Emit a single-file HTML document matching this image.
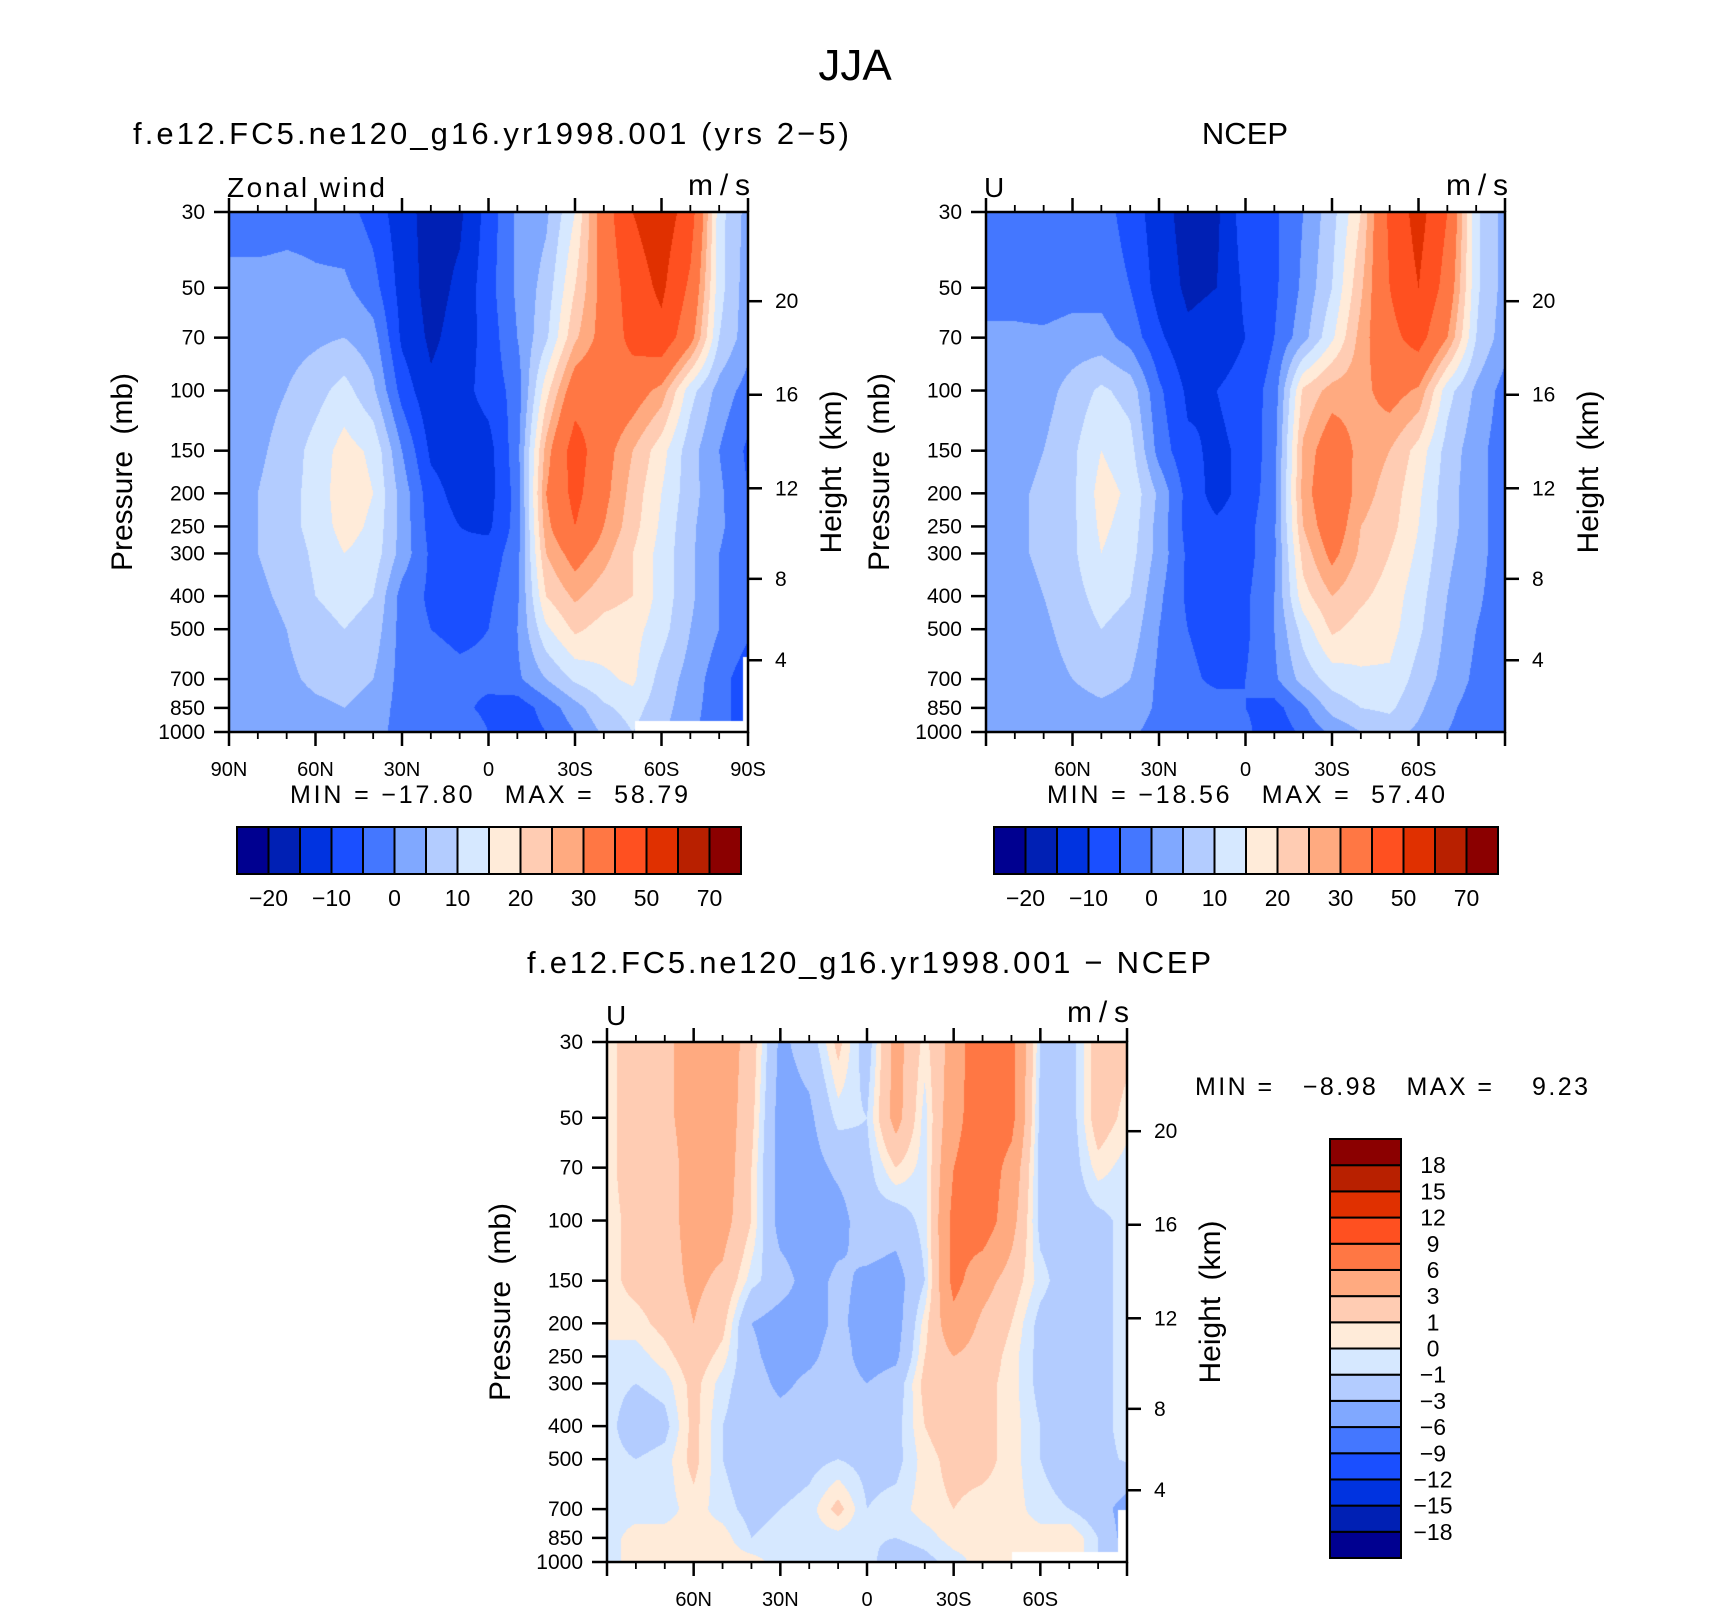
<!DOCTYPE html>
<html><head><meta charset="utf-8">
<style>
html,body{margin:0;padding:0;background:#fff;}
body{width:1710px;height:1611px;position:relative;overflow:hidden;font-family:"Liberation Sans",sans-serif;}
canvas{position:absolute;}
svg{position:absolute;left:0;top:0;}
</style></head>
<body>
<canvas id="c1" width="519" height="520" style="left:229px;top:212px"></canvas>
<canvas id="c2" width="519" height="520" style="left:986px;top:212px"></canvas>
<canvas id="c3" width="520" height="520" style="left:607px;top:1042px"></canvas>
<svg id="ov" width="1710" height="1611" xmlns="http://www.w3.org/2000/svg">
<text x="855" y="80" font-size="44" text-anchor="middle" font-family="Liberation Sans, sans-serif">JJA</text>
<text x="491" y="144" font-size="31" text-anchor="middle" textLength="716" font-family="Liberation Sans, sans-serif">f.e12.FC5.ne120_g16.yr1998.001 (yrs 2−5)</text>
<text x="1245" y="144" font-size="31" text-anchor="middle" font-family="Liberation Sans, sans-serif">NCEP</text>
<text x="869" y="973" font-size="31" text-anchor="middle" textLength="684" font-family="Liberation Sans, sans-serif">f.e12.FC5.ne120_g16.yr1998.001 − NCEP</text>
<text x="227" y="197" font-size="28" textLength="158" font-family="Liberation Sans, sans-serif">Zonal wind</text>
<text x="750" y="195" font-size="30" text-anchor="end" textLength="62" font-family="Liberation Sans, sans-serif">m/s</text>
<text x="984" y="197" font-size="28" font-family="Liberation Sans, sans-serif">U</text>
<text x="1508" y="195" font-size="30" text-anchor="end" textLength="62" font-family="Liberation Sans, sans-serif">m/s</text>
<text x="606" y="1025" font-size="28" font-family="Liberation Sans, sans-serif">U</text>
<text x="1129" y="1022" font-size="30" text-anchor="end" textLength="62" font-family="Liberation Sans, sans-serif">m/s</text>
<text x="290" y="803" font-size="25" textLength="398" xml:space="preserve" font-family="Liberation Sans, sans-serif">MIN = −17.80   MAX =  58.79</text>
<text x="1047" y="803" font-size="25" textLength="398" xml:space="preserve" font-family="Liberation Sans, sans-serif">MIN = −18.56   MAX =  57.40</text>
<text x="1195" y="1095" font-size="25" textLength="393" xml:space="preserve" font-family="Liberation Sans, sans-serif">MIN =   −8.98   MAX =    9.23</text>
</svg>
<script>
// ---------- data ----------
const lats = [90,80,70,60,50,40,30,20,10,0,-10,-20,-30,-40,-50,-60,-70,-80,-90];
const plevs = [30,50,70,100,150,200,250,300,400,500,700,850,1000];
const absLevels = [-20,-15,-10,-5,0,5,10,15,20,25,30,40,50,60,70];
const absLabels = ["−20","−10","0","10","20","30","50","70"];
const diffLevels = [-18,-15,-12,-9,-6,-3,-1,0,1,3,6,9,12,15,18];
const diffLabels = ["−18","−15","−12","−9","−6","−3","−1","0","1","3","6","9","12","15","18"];
const heightTicks = [20,16,12,8,4];
const xLabelLats = [90,60,30,0,-30,-60,-90];
const xLabelText = ["90N","60N","30N","0","30S","60S","90S"];
const palette = ['#000090','#0020b4','#0033e0','#1a4fff','#4477ff','#80a8ff','#b3ccff','#d6e8ff','#ffebd9','#ffccb3','#ffaa80','#ff7744','#ff5020','#e03000','#b82000','#8b0000'];

const modelU = [
[-3,-3,-2,-2,-3,-7,-13,-17,-16,-8,1,4,15,35,50,56,45,12,3],
[2,2,2,1,1,-3,-12,-17,-14,-7,1,7,20,33,45,52,38,12,2],
[3,3,3,4,5,2,-11,-16,-13,-8,0,9,24,33,43,47,33,10,2],
[3,3,5,8,12,6,-7,-14,-12,-8,-3,18,35,37,34,28,12,3,-2],
[3,4,7,12,17,14,0,-11,-13,-12,-2,27,45,33,25,17,7,0,-6],
[3,5,8,12,18,15,3,-8,-12,-12,-3,30,43,32,23,15,7,1,-5],
[3,5,8,12,17,14,3,-7,-10,-11,-3,28,40,30,22,14,6,1,-4],
[3,5,7,11,15,13,3,-6,-9,-8,-2,25,33,27,20,13,6,0,-4],
[3,4,6,10,12,10,-2,-6,-7,-6,-1,20,26,22,20,13,6,0,-4],
[2,3,5,8,10,8,-2,-5,-6,-5,0,14,21,18,17,12,5,0,-4],
[2,3,4,6,7,5,-2,-3,-4,-4,-1,5,11,14,16,8,3,-3,-8],
[2,2,3,4,5,3,-2,-3,-4,-6,-8,-3,3,9,12,7,2,-3,-8],
[1,1,2,3,3,2,-2,-3,-2,-5,-8,-5,0,6,10,6,1,-3,-8]
];
const ncepU = [
[-3,-3,-3,-3,-3,-7,-13,-17,-16,-7,-6,0,8,20,42,54,40,11,3],
[-2,-2,-3,-2,-2,-5,-12,-16,-15,-9,-6,1,10,24,40,50,36,11,3],
[1,1,1,2,2,-2,-9,-14,-13,-10,-5,3,14,27,37,44,30,10,2],
[2,2,3,7,11,8,-4,-11,-10,-8,-3,21,27,28,33,29,12,4,-2],
[2,3,5,9,15,12,-2,-9,-11,-9,-2,26,35,28,25,18,8,2,-3],
[2,4,6,9,17,14,4,-7,-12,-8,-2,27,37,27,23,16,7,2,-3],
[2,4,6,9,16,13,3,-7,-9,-7,-1,25,35,25,22,15,7,2,-3],
[2,4,6,9,15,12,3,-6,-8,-7,-1,22,32,24,20,14,6,2,-3],
[2,3,5,8,12,10,1,-6,-8,-6,0,18,25,21,18,12,5,1,-3],
[1,2,4,7,10,8,0,-5,-7,-6,0,12,21,18,17,11,4,0,-3],
[1,1,3,5,7,5,-1,-4,-6,-5,-1,7,12,14,14,8,3,-1,-4],
[1,1,2,3,4,3,-1,-3,-3,-5,-7,-1,7,10,11,6,1,-2,-3],
[0,1,1,2,2,1,-2,-3,0,-4,-8,-4,1,5,7,4,0,-2,-3]
];
const diffU = [
[0.5,2,2.5,4,4.5,2,-3.5,-2,1.5,-2,4,0.5,4,9,7,-1,-2,2,1.5],
[0.5,2,2.5,4,4.5,1.5,-4,-3.5,-0.5,-1,4,-0.5,5,8,7,-1.5,-2,2,0.5],
[0.5,2,2,4,4.5,1,-4,-4,-2.5,-1.5,1,-0.5,6,8,5,-1.5,-2,0.5,-0.5],
[0.5,1.5,2,4,4,1,-4,-4.5,-4,-1.5,-2,-0.5,7,8,4,-1.5,-2,-1.5,-0.5],
[0.5,1.5,2,3.5,2.5,-0.5,-2,-4,-2.5,-3.5,-4,-1,7,4,2,-0.5,-2,-1.5,-0.5],
[0.5,0.5,1.5,3,1.5,-3,-4,-4,-2.5,-4,-4,0.5,5,2.5,1,-1.5,-2,-1.5,-0.5],
[-0.5,-0.5,0.5,2,0.5,-2.5,-4,-3.5,-2,-4,-3.5,1,3,2,0.5,-1.5,-2,-1.5,-0.5],
[-0.5,-1,-0.5,1.5,-0.5,-2,-3.5,-2.5,-2,-3,-2,1.5,2.5,1.5,0.5,-1.5,-2,-1.5,-0.5],
[-0.5,-2,-1.5,1.5,-1,-2,-2,-2,-2,-2,-1.5,1,2,1.5,0.5,-1,-2,-1.5,-0.5],
[-0.5,-1,-0.5,1.5,-1,-2,-2,-1.5,-1,-1.5,-1.5,0.5,1.5,1.5,0.5,-1,-2,-1.5,-0.8],
[-0.5,-0.5,-0.5,0.5,-0.5,-1.5,-1,-0.5,1.5,-1,-0.5,0.5,1,0.5,0.5,-0.5,-1,-2,-4],
[-0.5,0.5,0.5,0.5,0.5,-1,-0.5,-0.5,-0.5,-0.8,-1,-0.5,0.5,0.5,0.5,0.5,1,-1,-4],
[-0.5,0.5,0.5,0.5,0.5,0.5,-0.5,-0.5,-0.5,-0.5,-2,-1.5,-0.5,0.5,0.5,0.5,1,-1,-3]
];

// ---------- helpers ----------
const NS = "http://www.w3.org/2000/svg";
const ov = document.getElementById('ov');
const LN0 = Math.log(30), LN1 = Math.log(1000);
function mk(tag, attrs, parent){
  const e = document.createElementNS(NS, tag);
  for (const k in attrs) e.setAttribute(k, attrs[k]);
  (parent||ov).appendChild(e);
  return e;
}
function xOf(P, lat){ return P.x + (90 - lat) / 180 * P.w; }
function yOf(P, p){ return P.y + (Math.log(p) - LN0) / (LN1 - LN0) * P.h; }
function zToP(z){
  const m = z * 1000;
  if (m <= 11000) return 1013.25 * Math.pow(1 - 2.25577e-5 * m, 5.25588);
  return 226.32 * Math.exp(-(m - 11000) / 6341.6);
}
function levelIndex(v, levels){ let i = 0; while (i < levels.length && v >= levels[i]) i++; return i; }
function hexRgb(h){ return [parseInt(h.substr(1,2),16), parseInt(h.substr(3,2),16), parseInt(h.substr(5,2),16)]; }
const rgbPal = palette.map(hexRgb);

function renderField(id, grid, levels, masks){
  const cv = document.getElementById(id);
  const ctx = cv.getContext('2d');
  const W = cv.width, H = cv.height;
  const img = ctx.createImageData(W, H);
  const lnp = plevs.map(Math.log);
  for (let py = 0; py < H; py++){
    const lp = LN0 + (py + 0.5) / H * (LN1 - LN0);
    let k = 0; while (k < plevs.length - 2 && lp > lnp[k+1]) k++;
    const t = Math.max(0, Math.min(1, (lp - lnp[k]) / (lnp[k+1] - lnp[k])));
    for (let px = 0; px < W; px++){
      const fc = (px + 0.5) / W * (lats.length - 1);
      let i = Math.min(lats.length - 2, Math.floor(fc));
      const s = fc - i;
      const v = (1-t)*((1-s)*grid[k][i] + s*grid[k][i+1]) + t*((1-s)*grid[k+1][i] + s*grid[k+1][i+1]);
      const c = rgbPal[levelIndex(v, levels)];
      const o = (py * W + px) * 4;
      img.data[o] = c[0]; img.data[o+1] = c[1]; img.data[o+2] = c[2]; img.data[o+3] = 255;
    }
  }
  ctx.putImageData(img, 0, 0);
  ctx.fillStyle = '#ffffff';
  masks.forEach(m => ctx.fillRect(m[0], m[1], m[2], m[3]));
}

function drawPanel(P){
  const g = mk('g', {});
  
  
  const fr = mk('rect', {x:P.x, y:P.y, width:P.w, height:P.h, fill:'none', stroke:'#000', 'stroke-width':2.5}, g);
  
  
  for (let lat = 90; lat >= -90; lat -= 10){
    const x = xOf(P, lat);
    const major = lat % 30 === 0;
    const L = major ? 14 : 7;
    const tb = mk('line', {x1:x, x2:x, y1:P.y + P.h, y2:P.y + P.h + L, stroke:'#000', 'stroke-width': major ? 2.5 : 1.8}, g);
    
    
    const tt = mk('line', {x1:x, x2:x, y1:P.y, y2:P.y - L, stroke:'#000', 'stroke-width': major ? 2.5 : 1.8}, g);
    
    
  }
  xLabelLats.forEach((lat, i) => {
    if (!P.edgeLabels && Math.abs(lat) === 90) return;
    const t = mk('text', {x:xOf(P, lat), y:P.y + P.h + 44, 'font-size':20, 'text-anchor':'middle'}, g);
    t.textContent = xLabelText[i];
    
    
  });
  plevs.forEach(p => {
    const y = yOf(P, p);
    const tl = mk('line', {x1:P.x - 15, x2:P.x, y1:y, y2:y, stroke:'#000', 'stroke-width':2.5}, g);
    
    
    const t = mk('text', {x:P.x - 24, y:y + 7, 'font-size':21, 'text-anchor':'end'}, g);
    t.textContent = String(p);
    
    
  });
  heightTicks.forEach(z => {
    const y = yOf(P, zToP(z));
    const tr = mk('line', {x1:P.x + P.w, x2:P.x + P.w + 14, y1:y, y2:y, stroke:'#000', 'stroke-width':2.5}, g);
    
    
    const t = mk('text', {x:P.x + P.w + 27, y:y + 7, 'font-size':21}, g);
    t.textContent = String(z);
    
    
  });
  const cy = P.y + P.h * 0.5;
  const yl = mk('text', {x:0, y:0, 'font-size':30, 'text-anchor':'middle', transform:'translate(' + (P.x - 97) + ',' + cy + ') rotate(-90)'}, g);
  yl.textContent = 'Pressure (mb)';
  yl.setAttribute('word-spacing', '8');
  
  
  const hl = mk('text', {x:0, y:0, 'font-size':30, 'text-anchor':'middle', transform:'translate(' + (P.x + P.w + 93) + ',' + cy + ') rotate(-90)'}, g);
  hl.textContent = 'Height (km)';
  hl.setAttribute('word-spacing', '8');
  
  
}

function drawHBar(x0, y0, w, h, name){
  const g = mk('g', {});
  
  
  const bw = w / palette.length;
  palette.forEach((c, i) => {
    const r = mk('rect', {x:x0 + i*bw, y:y0, width:bw, height:h, fill:c, stroke:'#000', 'stroke-width':2}, g);
    
    
  });
  absLabels.forEach((s, j) => {
    const t = mk('text', {x:x0 + (2*j + 1)*bw, y:y0 + h + 32, 'font-size':23, 'text-anchor':'middle'}, g);
    t.textContent = s;
    
    
  });
}
function drawVBar(x0, y0, w, h){
  const g = mk('g', {});
  
  
  const bh = h / palette.length;
  palette.forEach((c, i) => {
    const r = mk('rect', {x:x0, y:y0 + h - (i+1)*bh, width:w, height:bh, fill:c, stroke:'#000', 'stroke-width':2}, g);
    
    
  });
  diffLabels.forEach((s, j) => {
    const t = mk('text', {x:x0 + w + 32, y:y0 + h - (j+1)*bh + 8, 'font-size':23, 'text-anchor':'middle'}, g);
    t.textContent = s;
    
    
  });
}

// ---------- render ----------
renderField('c1', modelU, absLevels, [[406,509,113,11],[514,445,5,75]]);
renderField('c2', ncepU, absLevels, []);
renderField('c3', diffU, diffLevels, [[405,510,106,10],[511,468,9,52]]);

drawPanel({name:'model', x:229, y:212, w:519, h:520, edgeLabels:true});
drawPanel({name:'ncep', x:986, y:212, w:519, h:520, edgeLabels:false});
drawPanel({name:'difference', x:607, y:1042, w:520, h:520, edgeLabels:false});
drawHBar(237, 827, 504, 47, 'model-colorbar');
drawHBar(994, 827, 504, 47, 'ncep-colorbar');
drawVBar(1330, 1139, 71, 419);
</script>
</body></html>
